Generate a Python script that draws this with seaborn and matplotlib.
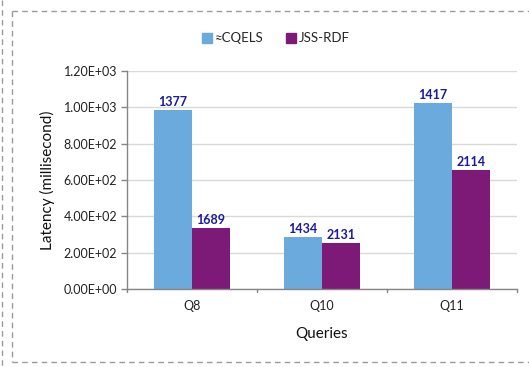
import matplotlib
matplotlib.use("Agg")
import matplotlib.pyplot as plt
import matplotlib.lines as mlines
import seaborn as sns
import pandas as pd

# Latency per query for each engine, with the figures printed above the bars
queries = ["Q8", "Q10", "Q11"]
systems = ["\u2248CQELS", "JSS-RDF"]
cqels_latency = [985, 286, 1022]
jss_latency = [337, 251, 655]
cqels_labels = ["1377", "1434", "1417"]
jss_labels = ["1689", "2131", "2114"]
y_ticks = [0, 200, 400, 600, 800, 1000, 1200]

colors = ["#6AAADC", "#7D1A77"]

df = pd.DataFrame({
    "Queries": queries * 2,
    "System": [systems[0]] * 3 + [systems[1]] * 3,
    "Latency": cqels_latency + jss_latency,
})

sns.set_theme(style="white")
plt.rcParams["font.family"] = ["Lato", "DejaVu Sans"]

fig = plt.figure(figsize=(5.29, 3.67), dpi=100)
ax = fig.add_axes([0.240, 0.2125, 0.737, 0.594])

sns.barplot(data=df, x="Queries", y="Latency", hue="System", order=queries,
            hue_order=systems, palette=colors, width=0.58, saturation=1,
            edgecolor="none", ax=ax, legend=False)

for cont, labs in zip(ax.containers, [cqels_labels, jss_labels]):
    ax.bar_label(cont, labels=labs, padding=1.5, fontsize=9,
                 fontweight="bold", color="#1B1B9A")

ax.set_ylim(0, 1200)
ax.set_xlim(-0.5, 2.5)
ax.set_yticks(y_ticks)
ax.set_yticklabels([f"{v:.2E}" for v in y_ticks], fontsize=9, color="#222222")
ax.yaxis.grid(True, color="#D9D9D9", linewidth=1)
ax.set_axisbelow(True)

# category ticks sit between the groups
ax.set_xticks([0, 1, 2])
ax.set_xticklabels(queries, fontsize=9, color="#222222")
ax.tick_params(axis="x", length=0, pad=8)
for xb in [-0.5, 0.5, 1.5, 2.5]:
    ax.plot([xb, xb], [0, -0.012], transform=ax.get_xaxis_transform(),
            color="#868686", lw=1, clip_on=False)
ax.tick_params(axis="y", length=4, width=1, color="#868686", direction="out", left=True, pad=3)

for s in ["top", "right"]:
    ax.spines[s].set_visible(False)
for s in ["left", "bottom"]:
    ax.spines[s].set_color("#868686")
    ax.spines[s].set_linewidth(1)

ax.set_xlabel("Queries", fontsize=11, labelpad=11, color="#111111")
ax.set_ylabel("Latency (millisecond)", fontsize=11, labelpad=6, color="#111111")

handles = [mlines.Line2D([], [], marker="s", linestyle="none", markersize=7,
                         markerfacecolor=c, markeredgecolor=c) for c in colors]
fig.legend(handles, systems, loc="center", bbox_to_anchor=(0.52, 0.896),
           ncol=2, frameon=False, fontsize=9.5, handletextpad=0.1,
           columnspacing=1.6, handlelength=1.0)

# dashed frame around the chart
frame = dict(color="#9A9A9A", lw=1, ls=(0, (4, 3)), transform=fig.transFigure)
fig.add_artist(mlines.Line2D([12 / 529, 1.0], [1 - 10.5 / 367] * 2, **frame))
fig.add_artist(mlines.Line2D([12 / 529, 1.0], [1 - 362 / 367] * 2, **frame))
fig.add_artist(mlines.Line2D([12 / 529] * 2, [1 - 10.5 / 367, 1 - 362 / 367], **frame))
fig.add_artist(mlines.Line2D([2 / 529] * 2, [1.0, 0.0], **frame))

fig.savefig("out.png", dpi=100)
